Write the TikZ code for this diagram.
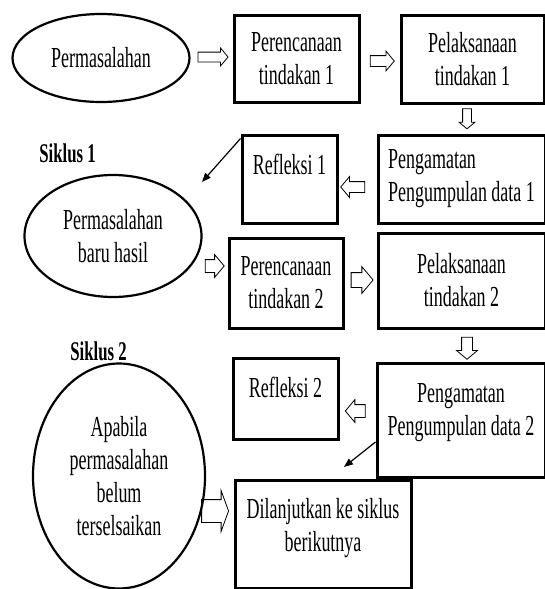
\documentclass[tikz,border=0pt]{standalone}
\usepackage{fontspec}
\setmainfont[FakeStretch=0.62]{Liberation Serif}
\usetikzlibrary{shapes.geometric, shapes.arrows, calc, arrows.meta}

\begin{document}
\begin{tikzpicture}[x=1pt, y=-1pt,
  every node/.style={font=\fontsize{29}{33}\selectfont},
  box/.style={rectangle, draw, line width=3pt, inner sep=0pt, align=center},
  oval/.style={ellipse, draw, line width=2.2pt, inner sep=0pt, align=center},
  hollow/.style={single arrow, draw, line width=0.8pt, text height=0pt, text depth=0pt,
    single arrow head indent=0pt, single arrow tip angle=100},
  link/.style={line width=1.2pt, -{Triangle[length=9pt, width=7pt]}}]
  \useasboundingbox (0, 0) rectangle (545, 589);
  % siklus 1
  \node (a) [oval, minimum width=177pt, minimum height=88pt] at (101, 58) {Permasalahan};
  \node (b) [box, minimum width=125pt, minimum height=87pt] at (296.5, 58.5) {Perencanaan\\tindakan 1};
  \node (c) [box, minimum width=143pt, minimum height=88pt] at (472.5, 59) {Pelaksanaan\\tindakan 1};
  \node (d) [box, minimum width=167pt, minimum height=88pt, align=left] at (461.5, 179) {Pengamatan\\Pengumpulan data 1};
  \node (e) [box, minimum width=95pt, minimum height=88pt, text height=20pt, text depth=30pt] at (289.5, 179) {Refleksi 1};
  \node (s1) [font=\fontsize{27}{30}\selectfont\bfseries] at (67.5, 153) {Siklus 1};
  % siklus 2
  \node (f) [oval, minimum width=177pt, minimum height=122pt] at (113, 236) {Permasalahan\\baru hasil};
  \node (g) [box, minimum width=114pt, minimum height=90pt] at (286, 283) {Perencanaan\\tindakan 2};
  \node (h) [box, minimum width=167pt, minimum height=95pt] at (461.5, 280.5) {Pelaksanaan\\tindakan 2};
  \node (i) [box, minimum width=168pt, minimum height=114pt, text depth=21pt] at (461, 420) {Pengamatan\\Pengumpulan data 2};
  \node (j) [box, minimum width=105pt, minimum height=81pt, text height=20pt, text depth=23pt] at (285.5, 398.5) {Refleksi 2};
  \node (s2) [font=\fontsize{27}{30}\selectfont\bfseries] at (98.5, 351) {Siklus 2};
  \node (k) [oval, minimum width=172pt, minimum height=225pt] at (119, 476) {Apabila\\permasalahan\\belum\\terselsaikan};
  \node (l) [box, minimum width=176pt, minimum height=108pt, text depth=18pt] at (323, 534) {Dilanjutkan ke siklus\\berikutnya};

  % block arrows
  \node (h1) [hollow, minimum height=30pt, inner sep=4.5pt, single arrow head extend=4pt] at (211, 57) {};
  \node (h2) [hollow, minimum height=24pt, inner sep=5pt, single arrow head extend=4.5pt] at (380, 61) {};
  \node (h3) [hollow, minimum height=20pt, inner sep=4pt, single arrow head extend=3.5pt, shape border rotate=270] at (467, 117) {};
  \node (h4) [hollow, minimum height=24pt, inner sep=5pt, single arrow head extend=5pt, shape border rotate=180] at (355, 187) {};
  \node (h5) [hollow, minimum height=19pt, inner sep=6pt, single arrow head extend=5pt] at (212, 266) {};
  \node (h6) [hollow, minimum height=22pt, inner sep=7pt, single arrow head extend=6pt] at (359, 280) {};
  \node (h7) [hollow, minimum height=22pt, inner sep=5pt, single arrow head extend=5pt, shape border rotate=270] at (467, 346) {};
  \node (h8) [hollow, minimum height=20pt, inner sep=6pt, single arrow head extend=5pt, shape border rotate=180] at (358, 411) {};
  \node (h9) [hollow, minimum height=20pt, inner sep=11pt, single arrow head extend=9pt, single arrow tip angle=140] at (213, 511) {};

  % back to new problem
  \coordinate (t1) at (202, 182);
  \coordinate (t2) at (344, 467);
  \draw[link] ($(e.north west)+(0, 5)$) -- (t1);
  \draw[link] ($(i.west)+(0, 22)$) -- (t2);
\end{tikzpicture}
\end{document}
